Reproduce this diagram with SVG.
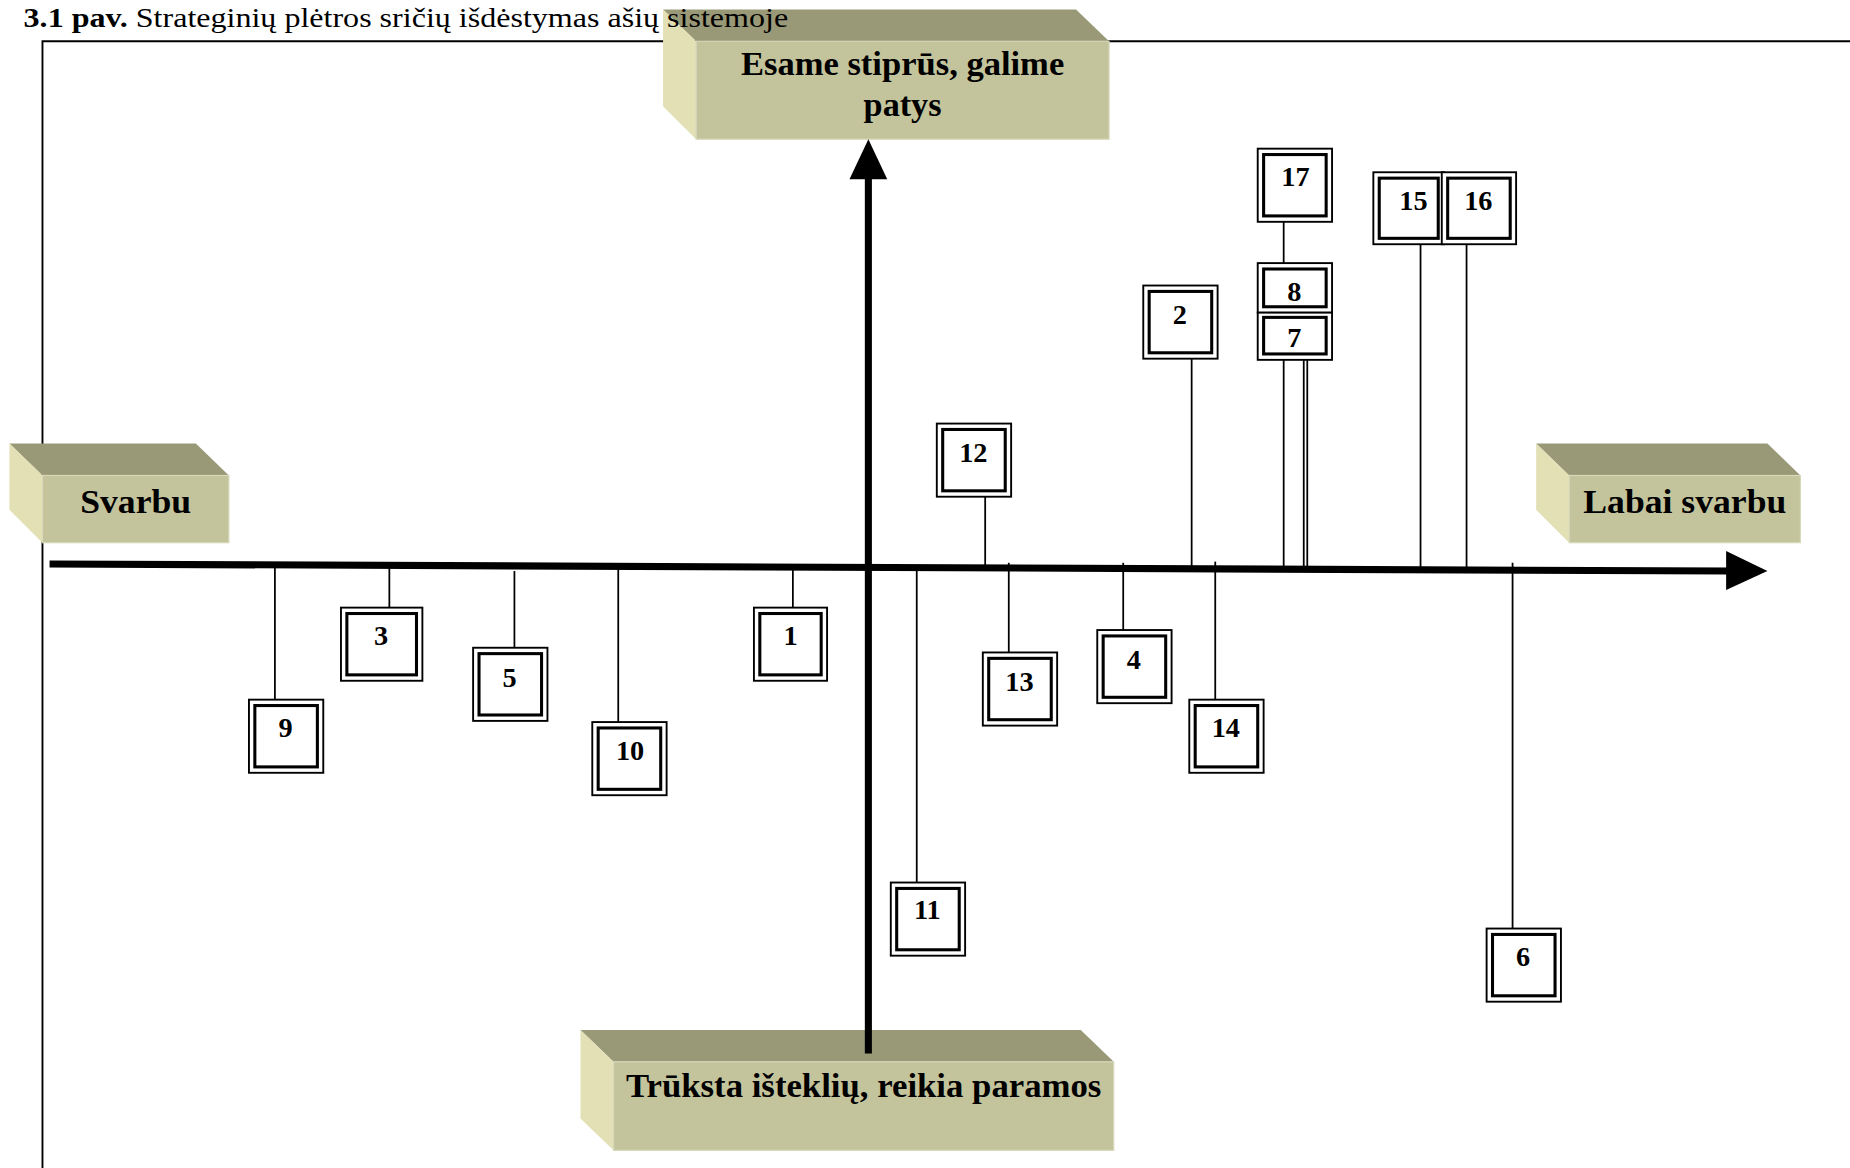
<svg xmlns="http://www.w3.org/2000/svg" width="1850" height="1168" viewBox="0 0 1850 1168">
<style>
.t{font-family:"Liberation Serif","Times New Roman",serif;fill:#000}
.lbl{font-family:"Liberation Serif","Times New Roman",serif;font-weight:bold;font-size:29px;text-anchor:middle;fill:#000}
.num{font-family:"Liberation Serif","Times New Roman",serif;font-weight:bold;font-size:24px;text-anchor:middle;fill:#000}
.front{fill:#C4C49C;stroke:#D8D8BC;stroke-width:1}
.top{fill:#999977}
.side{fill:#E2E0B4}
.outer{fill:#fff;stroke:#000;stroke-width:1.6}
.inner{fill:none;stroke:#000;stroke-width:2.6}
.conn{stroke:#000;stroke-width:1.5;fill:none}
.axis{stroke:#000;stroke-width:6;fill:none}
</style>
<rect width="1850" height="1168" fill="#fff"/>
<g transform="scale(1.17985)">
<path d="M36,992 V35 H1570" fill="none" stroke="#000" stroke-width="1.6"/>

<g id="box-top">
<polygon class="top" points="562,8 912,8 940,35 590,35"/>
<polygon class="side" points="562,8 590,35 590,118 562,90"/>
<rect class="front" x="590" y="35" width="350" height="83"/>
<text class="lbl" x="765" y="64" textLength="274" lengthAdjust="spacingAndGlyphs">Esame stiprūs, galime</text>
<text class="lbl" x="765" y="98">patys</text>
</g>
<g id="box-left">
<polygon class="top" points="8,376 166,376 194,403 36,403"/>
<polygon class="side" points="8,376 36,403 36,460 8,432"/>
<rect class="front" x="36" y="403" width="158" height="57"/>
<text class="lbl" x="115" y="435" font-size="30" textLength="94" lengthAdjust="spacingAndGlyphs">Svarbu</text>
</g>
<g id="box-right">
<polygon class="top" points="1302,376 1498,376 1526,403 1330,403"/>
<polygon class="side" points="1302,376 1330,403 1330,460 1302,432"/>
<rect class="front" x="1330" y="403" width="196" height="57"/>
<text class="lbl" x="1428" y="435" font-size="30" textLength="172" lengthAdjust="spacingAndGlyphs">Labai svarbu</text>
</g>
<g id="box-bottom">
<polygon class="top" points="492,873 916,873 944,900 520,900"/>
<polygon class="side" points="492,873 520,900 520,975 492,948"/>
<rect class="front" x="520" y="900" width="424" height="75"/>
<text class="lbl" x="732" y="930" textLength="403" lengthAdjust="spacingAndGlyphs">Trūksta išteklių, reikia paramos</text>
</g>

<g id="axes">
<line class="axis" x1="42" y1="478" x2="1466" y2="484"/>
<polygon points="1463,467 1498,484 1463,500" fill="#000"/>
<line class="axis" x1="736" y1="893" x2="736" y2="148"/>
<polygon points="720,152 736,118 752,152" fill="#000"/>
</g>

<g id="connectors">
<line class="conn" x1="233" y1="480" x2="233" y2="593"/>
<line class="conn" x1="330" y1="480" x2="330" y2="515"/>
<line class="conn" x1="436" y1="484" x2="436" y2="549"/>
<line class="conn" x1="524" y1="481" x2="524" y2="612"/>
<line class="conn" x1="672" y1="482" x2="672" y2="515"/>
<line class="conn" x1="777" y1="484" x2="777" y2="748"/>
<line class="conn" x1="835" y1="421" x2="835" y2="480"/>
<line class="conn" x1="855" y1="477" x2="855" y2="553"/>
<line class="conn" x1="952" y1="477" x2="952" y2="534"/>
<line class="conn" x1="1010" y1="304" x2="1010" y2="480"/>
<line class="conn" x1="1030" y1="476" x2="1030" y2="593"/>
<line class="conn" x1="1088" y1="305" x2="1088" y2="480"/>
<line class="conn" x1="1105" y1="305" x2="1105" y2="480" stroke-width="1.2"/>
<line class="conn" x1="1108" y1="305" x2="1108" y2="480" stroke-width="1.2"/>
<line class="conn" x1="1088" y1="188" x2="1088" y2="223"/>
<line class="conn" x1="1204" y1="207" x2="1204" y2="481"/>
<line class="conn" x1="1243" y1="207" x2="1243" y2="481"/>
<line class="conn" x1="1282" y1="477" x2="1282" y2="787"/>
</g>

<g id="n17"><rect class="outer" x="1066" y="126" width="63" height="62"/><rect class="inner" x="1071" y="131" width="53" height="52"/><text class="num" x="1098" y="158">17</text></g>
<g id="n8"><rect class="outer" x="1066" y="223" width="63" height="42"/><rect class="inner" x="1071" y="228" width="53" height="32"/><text class="num" x="1097" y="255">8</text></g>
<g id="n7"><rect class="outer" x="1066" y="265" width="63" height="40"/><rect class="inner" x="1071" y="269" width="53" height="31"/><text class="num" x="1097" y="294">7</text></g>
<g id="n15"><rect class="outer" x="1164" y="146" width="60" height="61"/><rect class="inner" x="1169" y="151" width="50" height="51"/><text class="num" x="1198" y="178">15</text></g>
<g id="n16"><rect class="outer" x="1222" y="146" width="63" height="61"/><rect class="inner" x="1227" y="151" width="53" height="51"/><text class="num" x="1253" y="178">16</text></g>
<g id="n2"><rect class="outer" x="969" y="242" width="63" height="62"/><rect class="inner" x="974" y="247" width="53" height="52"/><text class="num" x="1000" y="275">2</text></g>
<g id="n12"><rect class="outer" x="794" y="359" width="63" height="62"/><rect class="inner" x="799" y="364" width="53" height="52"/><text class="num" x="825" y="392">12</text></g>
<g id="n1"><rect class="outer" x="639" y="515" width="62" height="62"/><rect class="inner" x="644" y="520" width="52" height="52"/><text class="num" x="670" y="547">1</text></g>
<g id="n3"><rect class="outer" x="289" y="515" width="69" height="62"/><rect class="inner" x="294" y="520" width="59" height="52"/><text class="num" x="323" y="547">3</text></g>
<g id="n5"><rect class="outer" x="401" y="549" width="63" height="62"/><rect class="inner" x="406" y="554" width="53" height="52"/><text class="num" x="432" y="582">5</text></g>
<g id="n9"><rect class="outer" x="211" y="593" width="63" height="62"/><rect class="inner" x="216" y="598" width="53" height="52"/><text class="num" x="242" y="625">9</text></g>
<g id="n10"><rect class="outer" x="502" y="612" width="63" height="62"/><rect class="inner" x="507" y="617" width="53" height="52"/><text class="num" x="534" y="644">10</text></g>
<g id="n13"><rect class="outer" x="833" y="553" width="63" height="62"/><rect class="inner" x="838" y="558" width="53" height="52"/><text class="num" x="864" y="586">13</text></g>
<g id="n4"><rect class="outer" x="930" y="534" width="63" height="62"/><rect class="inner" x="935" y="539" width="53" height="52"/><text class="num" x="961" y="567">4</text></g>
<g id="n14"><rect class="outer" x="1008" y="593" width="63" height="62"/><rect class="inner" x="1013" y="598" width="53" height="52"/><text class="num" x="1039" y="625">14</text></g>
<g id="n11"><rect class="outer" x="755" y="748" width="63" height="62"/><rect class="inner" x="760" y="753" width="53" height="52"/><text class="num" x="786" y="779">11</text></g>
<g id="n6"><rect class="outer" x="1260" y="787" width="63" height="62"/><rect class="inner" x="1265" y="792" width="53" height="52"/><text class="num" x="1291" y="819">6</text></g>

<text class="t" x="20" y="23" font-size="23" textLength="648" lengthAdjust="spacingAndGlyphs"><tspan font-weight="bold">3.1 pav.</tspan> Strateginių plėtros sričių išdėstymas ašių sistemoje</text>
</g>
</svg>
